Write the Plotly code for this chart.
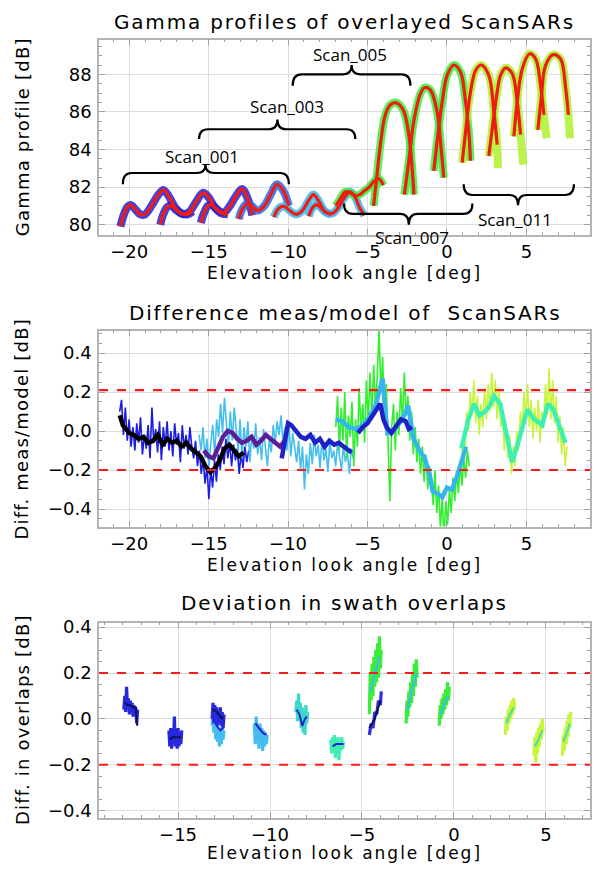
import numpy as np
import plotly.graph_objects as go

# ======================= PANEL 1 : gamma profiles =======================
b1_x = [-20.55, -20.35, -20.1, -19.9, -19.6, -19.3, -19.0, -18.6, -18.2, -17.85, -17.5, -17.1, -16.7, -16.3, -16.0]
b1_y = [79.9, 80.5, 80.95, 81.05, 80.8, 80.55, 80.55, 81.0, 81.55, 81.85, 81.5, 80.9, 80.6, 80.55, 80.7]
b2_x = [-18.05, -17.85, -17.6, -17.35, -17.0, -16.6, -16.2, -15.8, -15.35, -15.0, -14.6, -14.2, -13.8]
b2_y = [80.0, 80.55, 80.95, 81.0, 80.75, 80.55, 80.7, 81.2, 81.7, 81.45, 80.9, 80.6, 80.55]
b3_x = [-15.5, -15.3, -15.05, -14.8, -14.45, -14.05, -13.7, -13.3, -12.9, -12.55, -12.25]
b3_y = [80.1, 80.6, 81.0, 81.05, 80.8, 80.65, 80.95, 81.5, 81.9, 81.4, 80.5]
b4_x = [-13.1, -12.9, -12.6, -12.3, -11.9, -11.5, -11.1, -10.7, -10.3, -9.95]
b4_y = [80.3, 80.8, 81.1, 81.0, 80.75, 81.0, 81.6, 82.15, 81.8, 81.0]
c1_x = [-10.9, -10.7, -10.45, -10.2, -9.9, -9.5, -9.1, -8.7, -8.4, -8.1, -7.7, -7.3]
c1_y = [80.4, 80.75, 80.95, 80.95, 80.75, 80.55, 80.75, 81.3, 81.6, 81.3, 80.7, 80.55]
c2_x = [-8.7, -8.5, -8.25, -8.0, -7.6, -7.2, -6.8, -6.45, -6.1, -5.8, -5.5, -5.2]
c2_y = [80.45, 80.85, 81.05, 80.95, 80.65, 80.6, 80.95, 81.45, 81.75, 81.5, 80.9, 80.5]
g1_x = [-7.0, -6.7, -6.4, -6.1, -5.8, -5.5, -5.2, -4.9, -4.6, -4.3, -4.0]
g1_y = [81.0, 81.4, 81.75, 81.7, 81.55, 81.6, 81.8, 82.0, 82.3, 82.45, 82.1]

a1_x = [-4.62, -4.5, -4.4, -4.2, -3.9, -3.6, -3.25, -2.95, -2.7, -2.4, -2.2, -2.08]
a1_y = [81.0, 81.9, 82.7, 84.2, 85.8, 86.35, 86.5, 86.35, 86.0, 84.8, 83.1, 81.6]
a2_x = [-2.68, -2.4, -2.09, -1.67, -1.4, -1.04, -0.62, -0.41, -0.2]
a2_y = [81.6, 83.4, 85.5, 86.98, 87.3, 87.16, 86.0, 84.44, 82.5]
a3_x = [-0.83, -0.62, -0.3, 0.01, 0.43, 0.85, 1.17, 1.37, 1.48]
a3_y = [82.86, 84.44, 86.54, 87.95, 88.5, 88.12, 86.54, 84.96, 83.4]
a4_x = [0.96, 1.17, 1.48, 1.8, 2.15, 2.63, 2.95, 3.16, 3.2]
a4_y = [83.3, 84.96, 87.07, 88.21, 88.5, 87.95, 86.0, 84.26, 83.0]
a5_x = [2.63, 2.85, 3.16, 3.37, 3.69, 4.11, 4.42, 4.63, 4.8]
a5_y = [83.65, 85.14, 87.07, 87.95, 88.35, 88.03, 86.54, 84.79, 83.2]
a6_x = [4.21, 4.42, 4.74, 5.2, 5.58, 5.89, 6.1, 6.27]
a6_y = [84.7, 86.54, 88.3, 89.1, 88.82, 87.42, 85.84, 84.6]
a7_x = [5.72, 5.93, 6.2, 6.69, 7.15, 7.47, 7.64, 7.74]
a7_y = [85.05, 86.72, 88.47, 89.05, 88.82, 87.25, 85.84, 84.6]

scan_names = ["Scan_001", "Scan_003", "Scan_005", "Scan_007", "Scan_011"]
brace_left = [-20.4, -15.6, -9.71, -6.48, 1.05]
brace_right = [-9.95, -5.77, -2.3, 1.6, 7.99]
brace_mid = [-15.2, -10.67, -6.0, -2.4, 4.47]
brace_end = [82.15, 84.56, 87.4, 81.12, 82.15]
brace_line = [82.75, 85.08, 88.0, 80.57, 81.58]
brace_cusp = [83.2, 85.6, 88.5, 80.0, 81.03]
label_x = [-15.4, -10.1, -6.1, -2.2, 4.28]
label_y = [83.62, 86.28, 89.04, 79.31, 80.26]

# ======================= PANEL 2 : difference meas/model =======================
n1_range = [-20.6, -12.36]
n1_y = [0.10, 0.16, -0.02, 0.12, -0.05, 0.06, -0.08, 0.02, -0.10, 0.04,
        -0.06, 0.07, -0.12, -0.02, -0.09, 0.03, -0.14, 0.12, -0.06, 0.01,
        -0.11, 0.05, -0.15, 0.02, -0.08, 0.05, -0.10, 0.00, -0.13, 0.04,
        -0.07, -0.01, -0.16, 0.03, -0.09, -0.02, -0.12, 0.02, -0.08, -0.14,
        -0.05, -0.18, -0.10, -0.22, -0.14, -0.27, -0.18, -0.35, -0.20, -0.29,
        -0.15, -0.26, -0.12, -0.20, -0.08, -0.17, -0.04, -0.14, -0.06, -0.18,
        -0.07, -0.15, -0.09, -0.22, -0.11, -0.19, -0.08, -0.16, -0.10, -0.13]
n2_range = [-15.6, -5.9]
n2_y = [-0.02, -0.10, 0.02, -0.14, -0.04, -0.18, -0.06, 0.03, -0.12, 0.06,
        -0.03, 0.14, -0.01, 0.17, 0.04, -0.08, 0.10, -0.05, 0.12, 0.00,
        -0.10, 0.06, -0.14, 0.02, -0.08, 0.05, -0.16, -0.02, -0.09, 0.04,
        -0.12, -0.03, -0.15, 0.01, -0.07, -0.18, -0.04, -0.11, 0.03, -0.06,
        0.05, -0.02, 0.08, -0.06, 0.02, -0.10, 0.04, -0.13, -0.01, -0.09,
        -0.16, -0.05, -0.20, -0.08, -0.30, -0.12, -0.22, -0.06, -0.17, -0.02,
        -0.13, -0.07, -0.19, -0.04, -0.15, -0.09, -0.21, -0.05, -0.14, -0.10,
        -0.18, -0.06, -0.13, -0.20, -0.08, -0.16, -0.11, -0.22, -0.09, -0.14]
n3_range = [-7.0, 1.4]
n3_y = [0.02, 0.18, -0.10, 0.12, -0.05, 0.20, -0.14, 0.08, -0.03, 0.15,
        -0.18, 0.06, -0.08, 0.22, 0.00, 0.14, -0.06, 0.26, 0.05, 0.30,
        0.08, 0.34, 0.12, 0.28, 0.52, 0.20, 0.38, 0.06, 0.24, -0.04,
        -0.36, 0.02, 0.14, -0.10, 0.10, -0.02, 0.22, 0.04, 0.30, 0.08,
        0.18, -0.05, 0.10, -0.12, 0.02, -0.16, -0.04, -0.22, -0.08, -0.26,
        -0.12, -0.30, -0.18, -0.24, -0.38, -0.20, -0.42, -0.28, -0.50, -0.34,
        -0.55, -0.36, -0.48, -0.30, -0.42, -0.24, -0.36, -0.20, -0.32, -0.16,
        -0.28, -0.14, -0.24, -0.10, -0.18]
n4_range = [0.9, 7.55]
n4_y = [-0.18, -0.02, -0.12, 0.10, 0.00, 0.20, 0.08, 0.26, 0.04, 0.18,
        -0.02, 0.14, 0.02, 0.22, 0.06, 0.24, 0.10, 0.30, 0.12, 0.26,
        0.06, 0.22, 0.02, 0.10, -0.10, 0.04, -0.14, -0.02, -0.22, -0.08,
        -0.18, 0.00, -0.10, 0.10, 0.00, 0.20, 0.06, 0.24, 0.02, 0.16,
        -0.04, 0.12, 0.00, 0.16, -0.06, 0.10, 0.02, 0.24, 0.08, 0.32,
        0.06, 0.26, 0.04, 0.18, -0.06, 0.08, -0.12, 0.02, -0.18, -0.08]

k1_x = [-20.6, -20.4, -20.2, -20.0, -19.7, -19.4, -19.1, -18.8, -18.5, -18.2, -17.9, -17.6, -17.3, -17.0,
        -16.7, -16.4, -16.1, -15.8, -15.5, -15.2, -14.9, -14.6, -14.3, -14.0, -13.7, -13.4, -13.1, -12.8]
k1_y = [0.08, 0.03, 0.01, -0.01, -0.02, -0.04, -0.03, -0.06, -0.05, -0.02, -0.07, -0.04, -0.06, -0.05,
        -0.08, -0.06, -0.09, -0.11, -0.13, -0.18, -0.21, -0.19, -0.15, -0.09, -0.07, -0.10, -0.13, -0.11]
p1_x = [-15.3, -15.0, -14.7, -14.4, -14.1, -13.8, -13.5, -13.2, -12.9, -12.6, -12.3, -12.0, -11.7, -11.4,
        -11.1, -10.8, -10.5, -10.2]
p1_y = [-0.10, -0.13, -0.14, -0.08, -0.03, 0.00, -0.01, -0.04, -0.06, -0.05, -0.03, -0.07, -0.05, -0.02,
        -0.04, -0.06, -0.08, -0.05]
s5a_x = [-10.4, -10.2, -10.0, -9.8, -9.5, -9.2, -8.9, -8.6, -8.3, -8.0, -7.7, -7.4, -7.1, -6.8, -6.5, -6.2, -6.0]
s5a_y = [-0.14, -0.05, 0.04, 0.03, 0.00, -0.03, -0.04, -0.02, -0.06, -0.04, -0.08, -0.05, -0.07, -0.06, -0.08,
         -0.10, -0.11]
s5b_x = [-5.6, -5.3, -5.0, -4.7, -4.4, -4.2, -4.0, -3.8, -3.5, -3.2, -2.9, -2.6, -2.4, -2.2]
s5b_y = [-0.01, 0.02, 0.04, 0.08, 0.12, 0.14, 0.06, 0.02, -0.01, 0.03, 0.06, 0.05, 0.01, 0.02]
s7_x = [-7.0, -6.6, -6.2, -5.7, -5.3, -4.9, -4.5, -4.25, -4.05, -3.9, -3.75, -3.4, -3.1, -2.8, -2.45, -2.1,
        -1.8, -1.4, -1.1, -0.9, -0.6, -0.3, 0.0, 0.3, 0.6, 0.9, 1.2]
s7_y = [0.06, 0.05, 0.02, 0.01, 0.03, 0.07, 0.13, 0.20, 0.27, 0.12, -0.01, 0.00, 0.03, 0.06, 0.13, -0.04,
        -0.09, -0.14, -0.22, -0.31, -0.32, -0.34, -0.29, -0.30, -0.24, -0.15, -0.08]
s11_x = [0.9, 1.35, 1.7, 2.05, 2.4, 2.7, 2.95, 3.35, 3.85, 4.1, 4.55, 5.05, 5.5, 6.0, 6.35, 6.7, 7.05, 7.45]
s11_y = [-0.09, 0.06, 0.14, 0.08, 0.10, 0.13, 0.18, 0.14, -0.06, -0.16, -0.04, 0.11, 0.06, 0.03, 0.14, 0.11,
         0.03, -0.06]

diff_limits = [0.21, -0.2]

# ======================= PANEL 3 : deviation in overlaps =======================
o1_x = [-17.95, -17.9, -17.85, -17.8, -17.75, -17.7, -17.65, -17.6, -17.55, -17.5, -17.45, -17.4, -17.35, -17.3, -17.25, -17.2]
o1_y = [0.04, 0.10, 0.03, 0.14, 0.05, 0.09, 0.02, 0.08, 0.03, 0.07, 0.01, 0.06, 0.02, 0.05, -0.02, 0.04]
o1c_x = [-17.9, -17.75, -17.6, -17.45, -17.3, -17.22]
o1c_y = [0.07, 0.06, 0.06, 0.05, 0.05, -0.03]
o2_x = [-15.5, -15.45, -15.4, -15.35, -15.3, -15.25, -15.2, -15.15, -15.1, -15.05, -15.0, -14.95, -14.9, -14.85, -14.8]
o2_y = [-0.05, -0.12, -0.04, -0.13, -0.06, -0.11, 0.01, -0.12, -0.05, -0.13, -0.04, -0.12, -0.06, -0.11, -0.05]
o2c_x = [-15.45, -15.3, -15.15, -15.0, -14.85]
o2c_y = [-0.09, -0.08, -0.08, -0.08, -0.08]
o3_x = [-13.15, -13.1, -13.05, -13.0, -12.95, -12.9, -12.85, -12.8, -12.75, -12.7, -12.65, -12.6, -12.55, -12.5]
o3a_y = [0.00, 0.07, -0.02, 0.06, -0.01, 0.05, -0.03, 0.04, -0.02, 0.05, -0.03, 0.03, -0.04, 0.02]
o3b_y = [-0.03, 0.02, -0.06, 0.00, -0.09, -0.02, -0.10, -0.04, -0.12, -0.05, -0.11, -0.03, -0.09, -0.05]
o3c_x = [-13.1, -12.9, -12.7, -12.55]
o3c_y = [0.04, 0.03, 0.01, 0.00]
o3d_y = [0.00, -0.03, -0.05, -0.04]
o4_x = [-10.85, -10.8, -10.75, -10.7, -10.65, -10.6, -10.55, -10.5, -10.45, -10.4, -10.35, -10.3, -10.25, -10.2, -10.15]
o4_y = [-0.02, -0.11, 0.01, -0.09, -0.03, -0.13, -0.02, -0.10, -0.04, -0.14, -0.05, -0.12, -0.06, -0.11, -0.07]
o4c_x = [-10.8, -10.6, -10.4, -10.2]
o4c_y = [-0.02, -0.04, -0.06, -0.07]
o5_x = [-8.6, -8.55, -8.5, -8.45, -8.4, -8.35, -8.3, -8.25, -8.2, -8.15, -8.1, -8.05, -8.0, -7.95]
o5_y = [0.03, 0.08, -0.01, 0.11, 0.00, 0.07, -0.04, 0.05, -0.06, 0.04, -0.07, 0.06, -0.02, 0.03]
o5c_x = [-8.55, -8.4, -8.25, -8.1, -8.0]
o5c_y = [0.04, 0.02, -0.03, 0.00, 0.01]
o6_x = [-6.7, -6.65, -6.6, -6.55, -6.5, -6.45, -6.4, -6.35, -6.3, -6.25, -6.2, -6.15, -6.1, -6.05, -6.0]
o6_y = [-0.09, -0.15, -0.08, -0.14, -0.07, -0.17, -0.09, -0.13, -0.08, -0.18, -0.10, -0.14, -0.08, -0.13, -0.10]
o6c_x = [-6.6, -6.4, -6.2, -6.0]
o6c_y = [-0.12, -0.11, -0.11, -0.11]
o7_x = [-4.6, -4.55, -4.5, -4.45, -4.4, -4.35, -4.3, -4.25, -4.2, -4.15, -4.1, -4.05, -4.0, -3.95]
o7_y = [0.02, 0.20, 0.08, 0.24, 0.10, 0.27, 0.14, 0.30, 0.16, 0.33, 0.18, 0.36, 0.22, 0.30]
o7c_x = [-4.55, -4.3, -4.05]
o7c_y = [0.12, 0.20, 0.27]
o7b_x = [-4.6, -4.5, -4.4, -4.3, -4.2, -4.1, -4.0, -3.95]
o7b_y = [-0.07, -0.02, -0.04, 0.03, 0.02, 0.08, 0.06, 0.12]
o7d_x = [-4.6, -4.3, -4.0]
o7d_y = [-0.04, 0.0, 0.08]
o8_x = [-2.6, -2.55, -2.5, -2.45, -2.4, -2.35, -2.3, -2.25, -2.2, -2.15, -2.1, -2.05, -2.0]
o8_y = [-0.02, 0.08, 0.01, 0.12, 0.05, 0.16, 0.07, 0.20, 0.10, 0.24, 0.14, 0.26, 0.18]
o8c_x = [-2.55, -2.3, -2.05]
o8c_y = [0.04, 0.12, 0.20]
o9_x = [-0.8, -0.75, -0.7, -0.65, -0.6, -0.55, -0.5, -0.45, -0.4, -0.35, -0.3, -0.25]
o9_y = [-0.03, 0.06, 0.00, 0.09, 0.02, 0.11, 0.04, 0.13, 0.06, 0.16, 0.08, 0.14]
o9c_x = [-0.75, -0.5, -0.3]
o9c_y = [0.02, 0.07, 0.10]
o10_x = [2.8, 2.85, 2.9, 2.95, 3.0, 3.05, 3.1, 3.15, 3.2, 3.25, 3.3]
o10_y = [-0.07, 0.01, -0.05, 0.04, -0.02, 0.06, 0.00, 0.08, 0.02, 0.09, 0.04]
o10c_x = [2.85, 3.05, 3.25]
o10c_y = [-0.02, 0.02, 0.05]
o11_x = [4.35, 4.4, 4.45, 4.5, 4.55, 4.6, 4.65, 4.7, 4.75, 4.8, 4.85]
o11_y = [-0.16, -0.08, -0.19, -0.06, -0.15, -0.04, -0.12, -0.02, -0.09, 0.00, -0.06]
o11c_x = [4.4, 4.6, 4.8]
o11c_y = [-0.12, -0.09, -0.05]
o12_x = [5.9, 5.95, 6.0, 6.05, 6.1, 6.15, 6.2, 6.25, 6.3, 6.35]
o12_y = [-0.16, -0.07, -0.14, -0.04, -0.11, -0.01, -0.08, 0.02, -0.04, 0.03]
o12c_x = [5.95, 6.15, 6.3]
o12c_y = [-0.10, -0.06, -0.02]

overlap_limits = [0.2, -0.2]

# ======================= FIGURE =======================
W, H = 597, 870
BLUE = "#2323d8"
CYAN = "#3ab8ee"
GREEN = "#3cf03c"
YGREEN = "#aef22c"
RED = "#ee1c12"
FONT = "DejaVu Sans"

X0, X1 = 99, 590
panels = [(34, 231), (328, 526), (623, 820)]
y1_range = [79.47, 89.85]

fig = go.Figure()


def line(x, y, color, width, ax="", opacity=1.0, shape="linear"):
    fig.add_trace(go.Scatter(x=x, y=y, mode="lines", xaxis="x" + ax, yaxis="y" + ax,
                             line=dict(color=color, width=width, shape=shape), opacity=opacity,
                             hoverinfo="skip", showlegend=False))


def px(xp):
    return xp / W


def py(yp):
    return 1 - yp / H


# ---- panel 1
low = [(b1_x, b1_y, BLUE), (b2_x, b2_y, BLUE), (b3_x, b3_y, BLUE), (b4_x, b4_y, "#2a6ae8"),
       (c1_x, c1_y, CYAN), (c2_x, c2_y, CYAN), (g1_x, g1_y, GREEN)]
arches = [(a1_x, a1_y, GREEN), (a2_x, a2_y, GREEN), (a3_x, a3_y, GREEN),
          (a4_x, a4_y, YGREEN), (a5_x, a5_y, YGREEN), (a6_x, a6_y, YGREEN), (a7_x, a7_y, YGREEN)]
for x, y, c in low + arches:
    line(x, y, c, 8, "", 0.85, "spline")
for x, y, c in low:
    line(x, y, RED, 3.2, "", 1.0, "spline")
for i, (x, y, c) in enumerate(arches):
    cut = len(x) if i < 3 else len(x) - 1
    line(x[:cut], y[:cut], RED, 3.2, "", 1.0, "spline")

shapes = []
annotations = []
dom_lo, dom_hi = py(panels[0][1]), py(panels[0][0])
for i in range(len(scan_names)):
    xl, xr, xm = brace_left[i], brace_right[i], brace_mid[i]
    ye, yl, yc = brace_end[i], brace_line[i], brace_cusp[i]
    r = 0.55
    path = (f"M {xl},{ye} Q {xl},{yl} {xl + r},{yl} L {xm - r},{yl} Q {xm},{yl} {xm},{yc} "
            f"Q {xm},{yl} {xm + r},{yl} L {xr - r},{yl} Q {xr},{yl} {xr},{ye}")
    shapes.append(dict(type="path", path=path, xref="x", yref="y",
                       line=dict(color="black", width=2.2)))
    # label position converted through the axis scale (keeps labels outside range visible)
    frac = (label_y[i] - y1_range[0]) / (y1_range[1] - y1_range[0])
    annotations.append(dict(x=label_x[i], y=dom_lo + frac * (dom_hi - dom_lo), xref="x", yref="paper",
                            xanchor="center", yanchor="middle",
                            text=scan_names[i], showarrow=False,
                            font=dict(family="Open Sans", size=17, color="black")))

# ---- panel 2
line(np.linspace(n1_range[0], n1_range[1], len(n1_y)), n1_y, "#1c1ce0", 1.6, "2")
line(np.linspace(n2_range[0], n2_range[1], len(n2_y)), n2_y, "#45bff0", 1.6, "2")
line(np.linspace(n3_range[0], n3_range[1], len(n3_y)), n3_y, "#30f030", 1.6, "2")
line(np.linspace(n4_range[0], n4_range[1], len(n4_y)), n4_y, "#c8f53a", 1.6, "2")
line(k1_x, k1_y, "#000000", 4.5, "2")
line(p1_x, p1_y, "#5a1f98", 4.5, "2")
line(s5a_x, s5a_y, "#2020c8", 4.5, "2")
line(s7_x, s7_y, "#35b5ee", 4.5, "2")
line(s5b_x, s5b_y, "#2020c8", 4.5, "2")
line(s11_x, s11_y, "#3cf0b0", 4.5, "2")

# ---- panel 3
bands = [(o1_x, o1_y, "#2828dc", o1c_x, o1c_y, "#10105a"),
         (o2_x, o2_y, "#2828dc", o2c_x, o2c_y, "#10105a"),
         (o3_x, o3b_y, "#45bdf0", o3c_x, o3d_y, "#2323c8"),
         (o3_x, o3a_y, "#2828dc", o3c_x, o3c_y, "#10105a"),
         (o4_x, o4_y, "#45bdf0", o4c_x, o4c_y, "#2323c8"),
         (o5_x, o5_y, "#3ed8c8", o5c_x, o5c_y, "#2323c8"),
         (o6_x, o6_y, "#40eeb0", o6c_x, o6c_y, "#2323c8"),
         (o7_x, o7_y, "#38ee38", o7c_x, o7c_y, "#40b8f0"),
         (o7b_x, o7b_y, "#3030e0", o7d_x, o7d_y, "#10105a"),
         (o8_x, o8_y, "#38ee38", o8c_x, o8c_y, "#40b8f0"),
         (o9_x, o9_y, "#38ee38", o9c_x, o9c_y, "#40b8f0"),
         (o10_x, o10_y, "#c8f53a", o10c_x, o10c_y, "#40e0b0"),
         (o11_x, o11_y, "#c8f53a", o11c_x, o11c_y, "#40e0b0"),
         (o12_x, o12_y, "#c8f53a", o12c_x, o12c_y, "#40e0b0")]
for bx, by, bc, cx, cy, cc in bands:
    line(bx, by, bc, 3.2, "3")
    line(cx, cy, cc, 2.0, "3")

for v in diff_limits:
    shapes.append(dict(type="line", xref="x2 domain", yref="y2", x0=0, x1=1, y0=v, y1=v,
                       line=dict(color="#ff1a1a", width=2.2, dash="dash")))
for v in overlap_limits:
    shapes.append(dict(type="line", xref="x3 domain", yref="y3", x0=0, x1=1, y0=v, y1=v,
                       line=dict(color="#ff1a1a", width=2.2, dash="dash")))

tickfont = dict(family=FONT, size=18, color="black")


def xax(rng, anchor):
    return dict(domain=[px(X0), px(X1)], range=rng, anchor=anchor, dtick=5, showgrid=True,
                gridcolor="#dcdcdc", gridwidth=1, zeroline=False, showline=True, mirror="allticks",
                linecolor="#b4b4b4", linewidth=1.5, ticks="inside", ticklen=6, tickcolor="#a0a0a0",
                tickfont=tickfont, minor=dict(dtick=1, ticks="inside", ticklen=3, tickcolor="#a0a0a0",
                                              showgrid=False),
                ticklabelstandoff=0)


def yax(rng, dtick, minor, dom, anchor, fmt=None):
    d = dict(domain=[py(dom[1]), py(dom[0])], range=rng, anchor=anchor, dtick=dtick, showgrid=True,
             gridcolor="#dcdcdc", gridwidth=1, zeroline=False, showline=True, mirror="allticks",
             linecolor="#b4b4b4", linewidth=1.5, ticks="inside", ticklen=6, tickcolor="#a0a0a0",
             tickfont=tickfont, minor=dict(dtick=minor, ticks="inside", ticklen=3, tickcolor="#a0a0a0",
                                           showgrid=False),
             ticklabelstandoff=2)
    if fmt:
        d["tickformat"] = fmt
    return d


fig.update_layout(
    width=W, height=H, margin=dict(l=0, r=0, t=0, b=0),
    paper_bgcolor="white", plot_bgcolor="white",
    xaxis=xax([-21.9, 9.0], "y"),
    yaxis=yax(y1_range, 2, 0.5, panels[0], "x"),
    xaxis2=xax([-21.9, 9.0], "y2"),
    yaxis2=yax([-0.49, 0.515], 0.2, 0.05, panels[1], "x2", ".1f"),
    xaxis3=xax([-19.3, 7.4], "y3"),
    yaxis3=yax([-0.43, 0.42], 0.2, 0.05, panels[2], "x3", ".1f"),
    shapes=shapes,
)


def spaced(t, sp):
    return f'<span style="letter-spacing:{sp}px">{t}</span>'


titles = ["Gamma profiles of overlayed ScanSARs", "Difference meas/model of\u00a0 ScanSARs",
          "Deviation in swath overlaps"]
title_y = [16, 310, 603]
xtitle_y = [270, 565, 856]
ytitles = ["Gamma profile [dB]", "Diff. meas/model [dB]", "Diff. in overlaps [dB]"]
for i in range(3):
    annotations.append(dict(x=px((X0 + X1) / 2), y=py(title_y[i]), xref="paper", yref="paper",
                            text=spaced(titles[i], 1.8), showarrow=False, xanchor="center",
                            yanchor="middle", font=dict(family=FONT, size=20, color="black")))
    annotations.append(dict(x=px((X0 + X1) / 2), y=py(xtitle_y[i]), xref="paper", yref="paper",
                            text=spaced("Elevation look angle [deg]", 2.0), showarrow=False,
                            xanchor="center", yanchor="middle",
                            font=dict(family=FONT, size=17, color="black")))
    annotations.append(dict(x=px(22), y=py((panels[i][0] + panels[i][1]) / 2), xref="paper",
                            yref="paper", text=spaced(ytitles[i], 1.2), showarrow=False, textangle=-90,
                            xanchor="center", yanchor="middle",
                            font=dict(family=FONT, size=18, color="black")))
fig.update_layout(annotations=annotations)

fig.write_html("out.html", config={"displayModeBar": False},
               post_script="document.body.style.margin='0';")
